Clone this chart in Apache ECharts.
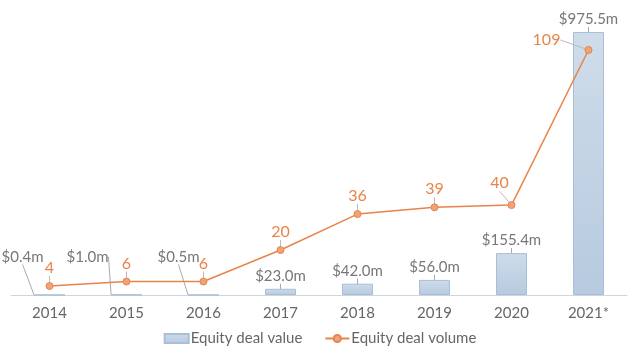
<!DOCTYPE html>
<html><head><meta charset="utf-8">
<script src="https://cdn.jsdelivr.net/npm/echarts@6/dist/echarts.min.js"></script>
<style>html,body{margin:0;padding:0;background:#fff}#c{width:640px;height:359px}</style>
</head><body><div id="c"></div>
<script>
const categories = ['2014','2015','2016','2017','2018','2019','2020','2021*'];
const dealValue = [0.4, 1.0, 0.5, 23.0, 42.0, 56.0, 155.4, 975.5];
const dealVolume = [4, 6, 6, 20, 36, 39, 40, 109];

const barShift = {0:[-27,-25],1:[-39,-25],2:[-25,-25]};
const lineShift = {6:[-12,-4],7:[-42,8]};

const chart = echarts.init(document.getElementById('c'));
chart.setOption({
  animation:false,
  textStyle:{fontFamily:'Lato'},
  grid:{left:11,right:13,top:32,bottom:64},
  legend:{bottom:8,itemGap:22,itemWidth:24,itemHeight:9,
    textStyle:{fontFamily:'Lato',fontSize:15,color:'#666',padding:[0,0,0,-3]},
    data:[{name:'Equity deal value',icon:'rect'},{name:'Equity deal volume'}]},
  xAxis:{type:'category',data:categories,
    axisLine:{lineStyle:{color:'#ccd6e0',width:1}},axisTick:{show:false},
    axisLabel:{fontFamily:'Lato',fontSize:15,color:'#666',margin:11}},
  yAxis:[{type:'value',min:0,max:975.5,show:false,splitLine:{show:false}},
         {type:'value',min:0,max:117,show:false,splitLine:{show:false}}],
  series:[
    {name:'Equity deal value',type:'bar',data:dealValue,barWidth:31,
      itemStyle:{color:new echarts.graphic.LinearGradient(0,0,0,1,[{offset:0,color:'#cfdcea'},{offset:1,color:'#b7cadf'}]),
        borderColor:'#a8bfd8',borderWidth:1},
      label:{show:true,position:'top',distance:5,fontFamily:'Lato',fontSize:15,color:'#777',
        formatter:p=>'$'+p.value.toFixed(1)+'m'},
      labelLine:{show:true,lineStyle:{color:'#aaa',width:1}},
      labelLayout:p=>barShift[p.dataIndex]?{dx:barShift[p.dataIndex][0],dy:barShift[p.dataIndex][1]}:{}
    },
    {name:'Equity deal volume',type:'line',yAxisIndex:1,data:dealVolume,
      symbol:'circle',symbolSize:7,
      lineStyle:{color:'#e8844a',width:1.5},
      itemStyle:{color:'#f0a27a',borderColor:'#e8844a',borderWidth:1},
      label:{show:true,position:'top',distance:6,fontFamily:'Lato',fontSize:16,color:'#e8844a'},
      labelLine:{show:true,lineStyle:{color:'#bbb',width:1}},
      labelLayout:p=>lineShift[p.dataIndex]?{dx:lineShift[p.dataIndex][0],dy:lineShift[p.dataIndex][1]}:{}
    }
  ]
});
</script></body></html>
